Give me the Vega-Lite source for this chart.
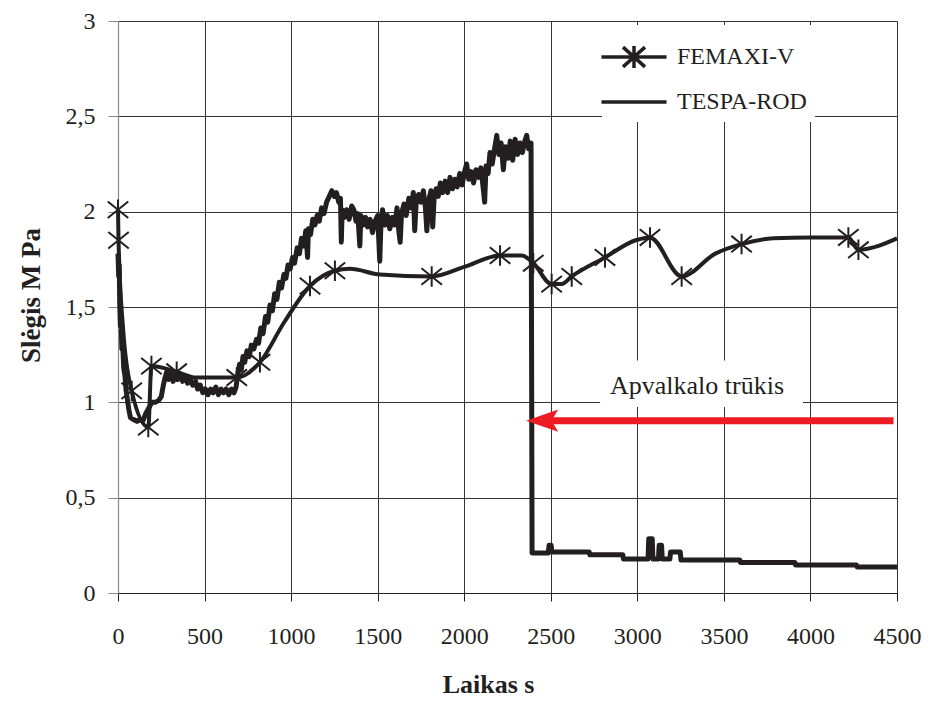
{
  "$schema": "https://vega.github.io/schema/vega-lite/v6.json",
  "width": 779,
  "height": 572,
  "autosize": {"type": "none"},
  "padding": {"left": 118, "top": 21, "right": 33, "bottom": 108},
  "background": "white",
  "config": {
    "view": {"stroke": null},
    "font": "Liberation Serif",
    "axis": {"labelFont": "Liberation Serif", "titleFont": "Liberation Serif"},
    "legend": {"labelFont": "Liberation Serif", "titleFont": "Liberation Serif"},
    "text": {"font": "Liberation Serif"}
  },
  "datasets": {
    "tespa": [
      {"t":0,"p":1.78},{"t":4,"p":1.66},{"t":7,"p":1.72},{"t":10,"p":1.52},{"t":14,"p":1.40},{"t":18,"p":1.44},{"t":22,"p":1.28},{"t":27,"p":1.31},{"t":33,"p":1.18},{"t":40,"p":1.14},{"t":47,"p":1.06},{"t":55,"p":1.01},{"t":63,"p":0.96},{"t":72,"p":0.92},{"t":90,"p":0.91},{"t":110,"p":0.90},{"t":130,"p":0.91},{"t":145,"p":0.905},{"t":160,"p":0.94},{"t":178,"p":0.97},{"t":195,"p":1.0},{"t":215,"p":1.0},{"t":235,"p":1.01},{"t":250,"p":1.03},{"t":262,"p":1.09},{"t":272,"p":1.13},{"t":282,"p":1.16},{"t":292,"p":1.12},{"t":305,"p":1.15},{"t":318,"p":1.11},{"t":330,"p":1.14},{"t":345,"p":1.12},{"t":358,"p":1.15},{"t":372,"p":1.11},{"t":388,"p":1.13},{"t":402,"p":1.10},{"t":418,"p":1.12},{"t":432,"p":1.09},{"t":448,"p":1.11},{"t":460,"p":1.07},{"t":475,"p":1.09},{"t":490,"p":1.05},{"t":505,"p":1.07},{"t":520,"p":1.04},{"t":535,"p":1.07},{"t":550,"p":1.05},{"t":565,"p":1.08},{"t":580,"p":1.04},{"t":595,"p":1.07},{"t":610,"p":1.05},{"t":625,"p":1.07},{"t":640,"p":1.04},{"t":655,"p":1.07},{"t":670,"p":1.05},{"t":682,"p":1.08},{"t":692,"p":1.15},{"t":702,"p":1.20},{"t":712,"p":1.17},{"t":722,"p":1.24},{"t":732,"p":1.21},{"t":745,"p":1.27},{"t":758,"p":1.24},{"t":770,"p":1.30},{"t":785,"p":1.28},{"t":800,"p":1.33},{"t":812,"p":1.31},{"t":825,"p":1.39},{"t":838,"p":1.36},{"t":852,"p":1.45},{"t":865,"p":1.42},{"t":878,"p":1.51},{"t":892,"p":1.48},{"t":905,"p":1.57},{"t":918,"p":1.54},{"t":932,"p":1.63},{"t":945,"p":1.60},{"t":958,"p":1.67},{"t":970,"p":1.65},{"t":982,"p":1.72},{"t":995,"p":1.70},{"t":1008,"p":1.76},{"t":1020,"p":1.73},{"t":1035,"p":1.81},{"t":1048,"p":1.78},{"t":1060,"p":1.86},{"t":1072,"p":1.82},{"t":1085,"p":1.90},{"t":1095,"p":1.76},{"t":1100,"p":1.91},{"t":1112,"p":1.88},{"t":1125,"p":1.96},{"t":1138,"p":1.93},{"t":1150,"p":1.98},{"t":1163,"p":1.95},{"t":1176,"p":2.02},{"t":1190,"p":1.99},{"t":1205,"p":2.05},{"t":1220,"p":2.08},{"t":1235,"p":2.11},{"t":1250,"p":2.08},{"t":1262,"p":2.10},{"t":1275,"p":2.05},{"t":1285,"p":2.07},{"t":1290,"p":1.84},{"t":1295,"p":2.01},{"t":1308,"p":1.97},{"t":1320,"p":2.01},{"t":1335,"p":1.96},{"t":1350,"p":2.03},{"t":1362,"p":2.01},{"t":1375,"p":1.95},{"t":1385,"p":1.99},{"t":1397,"p":1.82},{"t":1403,"p":1.98},{"t":1417,"p":1.93},{"t":1430,"p":1.97},{"t":1442,"p":1.92},{"t":1456,"p":1.96},{"t":1470,"p":1.89},{"t":1485,"p":1.95},{"t":1500,"p":1.98},{"t":1512,"p":1.74},{"t":1518,"p":1.91},{"t":1528,"p":2.01},{"t":1542,"p":1.93},{"t":1556,"p":1.98},{"t":1570,"p":1.91},{"t":1585,"p":1.97},{"t":1598,"p":1.93},{"t":1612,"p":2.02},{"t":1622,"p":1.90},{"t":1630,"p":1.84},{"t":1638,"p":1.99},{"t":1652,"p":2.04},{"t":1665,"p":1.98},{"t":1680,"p":2.07},{"t":1694,"p":2.02},{"t":1706,"p":2.10},{"t":1714,"p":1.90},{"t":1722,"p":2.04},{"t":1736,"p":2.09},{"t":1750,"p":2.05},{"t":1764,"p":2.11},{"t":1776,"p":2.02},{"t":1784,"p":1.90},{"t":1795,"p":2.06},{"t":1808,"p":2.11},{"t":1818,"p":1.92},{"t":1826,"p":2.07},{"t":1838,"p":2.12},{"t":1850,"p":2.08},{"t":1862,"p":2.15},{"t":1876,"p":2.10},{"t":1890,"p":2.16},{"t":1904,"p":2.10},{"t":1918,"p":2.18},{"t":1932,"p":2.12},{"t":1946,"p":2.17},{"t":1960,"p":2.13},{"t":1974,"p":2.20},{"t":1988,"p":2.14},{"t":2002,"p":2.21},{"t":2014,"p":2.25},{"t":2026,"p":2.17},{"t":2040,"p":2.21},{"t":2054,"p":2.15},{"t":2068,"p":2.22},{"t":2082,"p":2.18},{"t":2096,"p":2.23},{"t":2110,"p":2.12},{"t":2118,"p":2.05},{"t":2126,"p":2.24},{"t":2138,"p":2.20},{"t":2149,"p":2.31},{"t":2162,"p":2.25},{"t":2175,"p":2.33},{"t":2188,"p":2.40},{"t":2200,"p":2.30},{"t":2213,"p":2.36},{"t":2226,"p":2.22},{"t":2238,"p":2.34},{"t":2252,"p":2.28},{"t":2266,"p":2.37},{"t":2280,"p":2.27},{"t":2294,"p":2.38},{"t":2308,"p":2.30},{"t":2322,"p":2.36},{"t":2336,"p":2.31},{"t":2350,"p":2.37},{"t":2361,"p":2.40},{"t":2372,"p":2.33},{"t":2386,"p":2.36},{"t":2392,"p":0.21},{"t":2485,"p":0.21},{"t":2490,"p":0.25},{"t":2502,"p":0.25},{"t":2506,"p":0.215},{"t":2722,"p":0.215},{"t":2726,"p":0.20},{"t":2916,"p":0.20},{"t":2920,"p":0.178},{"t":3062,"p":0.178},{"t":3066,"p":0.285},{"t":3086,"p":0.285},{"t":3090,"p":0.178},{"t":3122,"p":0.178},{"t":3126,"p":0.25},{"t":3140,"p":0.25},{"t":3144,"p":0.178},{"t":3188,"p":0.178},{"t":3192,"p":0.215},{"t":3248,"p":0.215},{"t":3252,"p":0.173},{"t":3592,"p":0.173},{"t":3596,"p":0.16},{"t":3910,"p":0.16},{"t":3914,"p":0.147},{"t":4266,"p":0.147},{"t":4270,"p":0.136},{"t":4500,"p":0.136}
    ],
    "femaxi": [
      {"t":0,"p":2.01,"m":1},{"t":3,"p":1.85,"m":1},{"t":30,"p":1.38,"m":0},{"t":79,"p":1.06,"m":1},{"t":175,"p":0.87,"m":1},{"t":193,"p":1.19,"m":1},{"t":339,"p":1.16,"m":1},{"t":450,"p":1.13,"m":0},{"t":686,"p":1.13,"m":1},{"t":820,"p":1.21,"m":1},{"t":960,"p":1.42,"m":0},{"t":1109,"p":1.61,"m":1},{"t":1253,"p":1.69,"m":1},{"t":1340,"p":1.70,"m":0},{"t":1513,"p":1.67,"m":0},{"t":1812,"p":1.66,"m":1},{"t":2000,"p":1.71,"m":0},{"t":2207,"p":1.77,"m":1},{"t":2332,"p":1.77,"m":0},{"t":2399,"p":1.73,"m":1},{"t":2505,"p":1.62,"m":1},{"t":2563,"p":1.62,"m":0},{"t":2621,"p":1.66,"m":1},{"t":2813,"p":1.76,"m":1},{"t":2990,"p":1.85,"m":0},{"t":3073,"p":1.865,"m":1},{"t":3256,"p":1.66,"m":1},{"t":3450,"p":1.78,"m":0},{"t":3602,"p":1.83,"m":1},{"t":3786,"p":1.86,"m":0},{"t":4000,"p":1.865,"m":0},{"t":4219,"p":1.865,"m":1},{"t":4277,"p":1.80,"m":1},{"t":4500,"p":1.86,"m":0}
    ],
    "box": [{"t":2785,"t2":3957,"p":0.975,"p2":1.22}],
    "arrow": [{"t":2490,"t2":4480,"p":0.904}],
    "head": [{"t":2450,"p":0.904}],
    "label": [{"t":3345,"p":1.085,"text":"Apvalkalo trūkis"}]
  },
  "encoding": {
    "x": {
      "field": "t", "type": "quantitative",
      "scale": {"domain": [0, 4500], "nice": false, "zero": false},
      "axis": {
        "values": [0,500,1000,1500,2000,2500,3000,3500,4000,4500],
        "format": "d",
        "title": "Laikas s",
        "grid": true, "gridColor": "#333333", "gridWidth": 1,
        "domainColor": "#231f20", "domainWidth": 1.2,
        "tickColor": "#231f20", "tickSize": 8, "tickWidth": 1,
        "labelFont": "Liberation Serif", "labelFontSize": 24, "labelColor": "#231f20",
        "labelPadding": 23, "labelFlush": false, "labelOverlap": false, "labelBound": false,
        "titleFont": "Liberation Serif", "titleFontSize": 26, "titleFontWeight": "bold", "titleColor": "#231f20",
        "titleX": 370, "titleY": 99, "titleBaseline": "alphabetic", "titleAlign": "center"
      }
    },
    "y": {
      "field": "p", "type": "quantitative",
      "scale": {"domain": [0, 3], "nice": false},
      "axis": {
        "values": [0,0.5,1,1.5,2,2.5,3],
        "labelExpr": "replace(format(datum.value, '~g'), '.', ',')",
        "title": "Slėgis  M Pa",
        "grid": true, "gridColor": "#333333", "gridWidth": 1,
        "domainColor": "#888888", "domainWidth": 1.2,
        "tickColor": "#888888", "tickSize": 10, "tickWidth": 1,
        "labelFont": "Liberation Serif", "labelFontSize": 24, "labelColor": "#231f20",
        "labelPadding": 13, "labelOverlap": false, "labelBound": false,
        "titleFont": "Liberation Serif", "titleFontSize": 27, "titleFontWeight": "bold", "titleColor": "#231f20",
        "titleX": -87, "titleY": 274, "titleAngle": -90, "titleBaseline": "middle", "titleAlign": "center"
      }
    }
  },
  "layer": [
    {
      "data": {"name": "box"},
      "mark": {"type": "rect", "color": "white"},
      "encoding": {"x2": {"field": "t2"}, "y2": {"field": "p2"}}
    },
    {
      "data": {"name": "tespa"},
      "mark": {"type": "line", "strokeWidth": 5, "strokeJoin": "round"},
      "encoding": {
        "stroke": {
          "datum": "TESPA-ROD", "type": "nominal",
          "scale": {"domain": ["FEMAXI-V", "TESPA-ROD"], "range": ["#231f20", "#231f20"]},
          "legend": {
            "title": null, "orient": "none", "legendX": 484, "legendY": 4, "padding": 8,
            "fillColor": "white", "zindex": 1,
            "symbolSize": 1936, "symbolStrokeWidth": 3.5, "symbolStrokeColor": "#231f20",
            "labelFont": "Liberation Serif", "labelFontSize": 24, "labelColor": "#231f20",
            "labelOffset": 19, "rowPadding": 3,
            "symbolType": "M-1.48,0H1.48",
            "encode": {"symbols": {"update": {"shape": {"signal": "datum.value === 'FEMAXI-V' ? 'M-1.48,0H1.48M0,-0.5V0.5M-0.5,-0.45L0.5,0.45M-0.5,0.45L0.5,-0.45' : 'M-1.48,0H1.48'"}}}}
          }
        }
      }
    },
    {
      "data": {"name": "femaxi"},
      "mark": {"type": "line", "interpolate": "monotone", "strokeWidth": 4},
      "encoding": {"stroke": {"datum": "FEMAXI-V", "type": "nominal"}}
    },
    {
      "data": {"name": "femaxi"},
      "transform": [{"filter": "datum.m == 1"}],
      "mark": {"type": "point", "shape": "M0,-1V1M-1,-0.8L1,0.8M-1,0.8L1,-0.8", "filled": false, "stroke": "#231f20", "strokeWidth": 2, "size": 420, "opacity": 1}
    },
    {
      "data": {"name": "arrow"},
      "mark": {"type": "rule", "color": "#ed1c24", "strokeWidth": 7},
      "encoding": {"x2": {"field": "t2"}}
    },
    {
      "data": {"name": "head"},
      "mark": {"type": "point", "shape": "M-1,0L1,-0.7L0.6,0L1,0.7Z", "filled": true, "color": "#ed1c24", "size": 1024, "opacity": 1}
    },
    {
      "data": {"name": "label"},
      "mark": {"type": "text", "font": "Liberation Serif", "fontSize": 26, "color": "#231f20", "align": "center", "baseline": "middle"},
      "encoding": {"text": {"field": "text"}}
    }
  ]
}
